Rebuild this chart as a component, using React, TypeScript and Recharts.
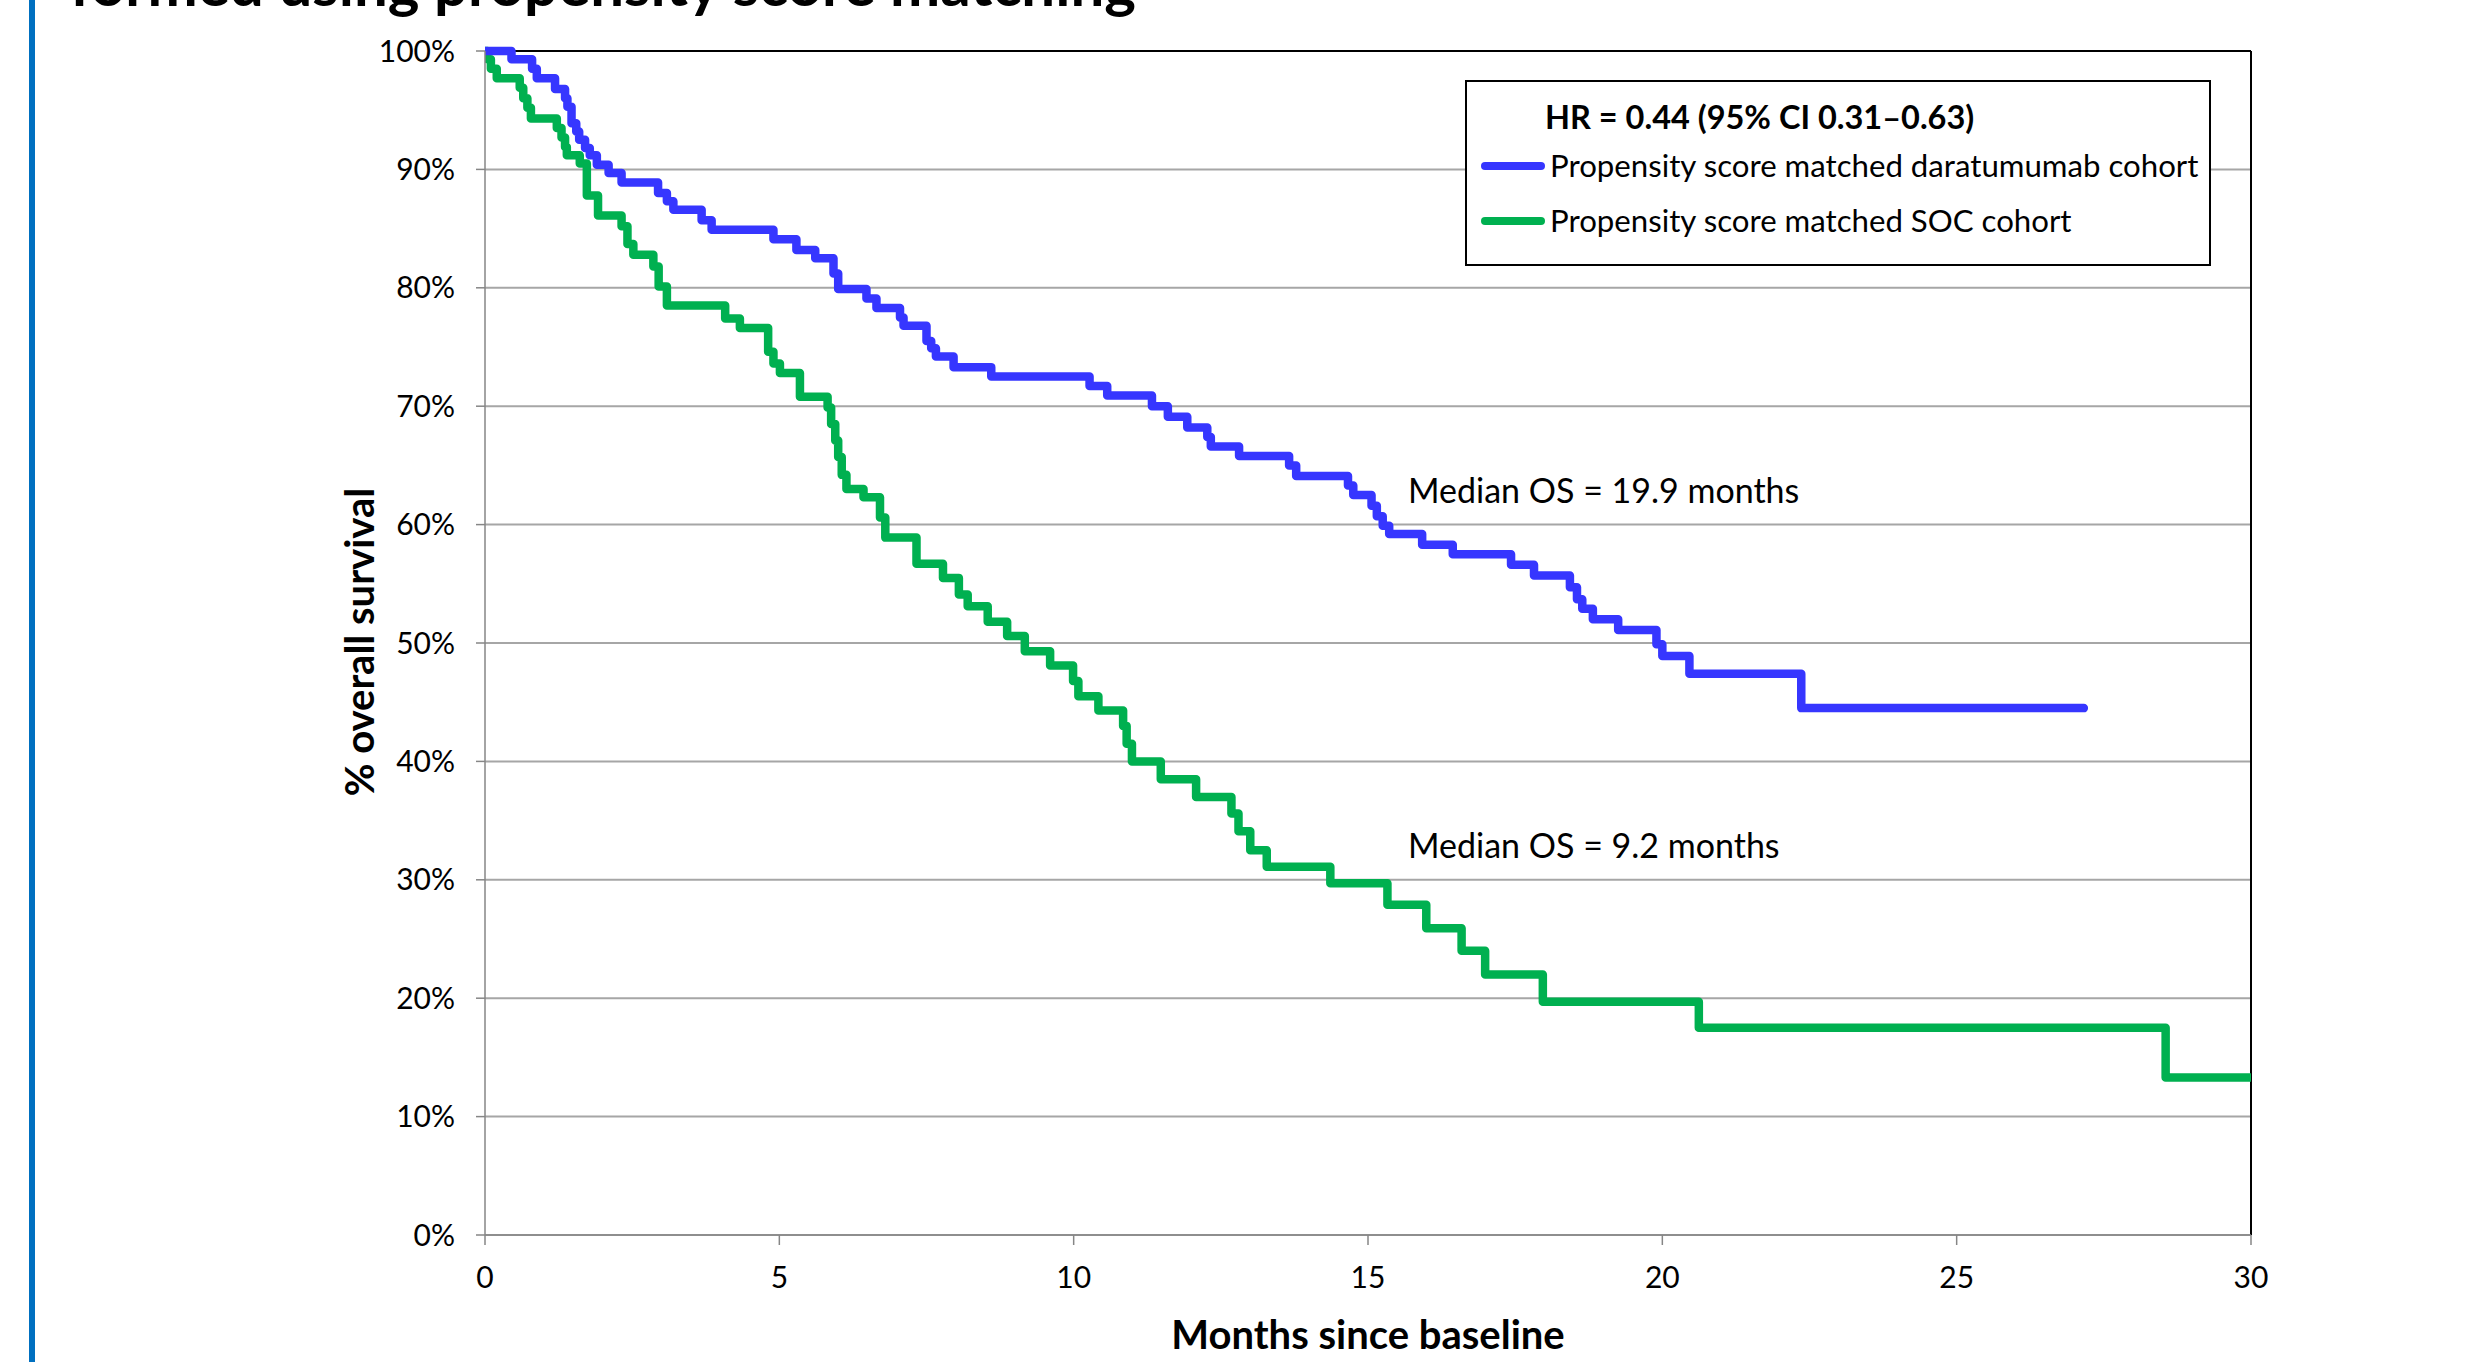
import React from 'react';
import { LineChart, Line, XAxis, YAxis, CartesianGrid, ReferenceLine } from 'recharts';

const FONT = "Lato, 'Open Sans', sans-serif";

// Kaplan-Meier step data (time in months, % surviving from that time on)
const blueTimes = [0, 0.45, 0.8, 0.88, 1.19, 1.36, 1.4, 1.47, 1.55, 1.6, 1.7, 1.78, 1.9, 2.1, 2.32, 2.94, 3.09, 3.2, 3.68, 3.85, 4.9, 5.29, 5.61, 5.92, 6.0, 6.48, 6.65, 7.05, 7.11, 7.5, 7.58, 7.66, 7.96, 8.6, 10.27, 10.57, 11.33, 11.6, 11.93, 12.27, 12.33, 12.81, 13.66, 13.78, 14.66, 14.75, 15.06, 15.15, 15.25, 15.36, 15.92, 16.44, 17.43, 17.82, 18.43, 18.55, 18.64, 18.82, 19.25, 19.9, 20.0, 20.46, 22.36, 27.16];
const blueSurv = [100, 99.3, 98.5, 97.7, 96.8, 96.0, 95.3, 93.9, 93.2, 92.5, 91.8, 91.2, 90.4, 89.7, 88.9, 88.0, 87.3, 86.6, 85.7, 84.9, 84.1, 83.2, 82.5, 81.2, 79.9, 79.1, 78.3, 77.5, 76.8, 75.5, 74.9, 74.2, 73.3, 72.5, 71.7, 70.9, 70.0, 69.1, 68.2, 67.4, 66.6, 65.8, 65.0, 64.1, 63.3, 62.5, 61.6, 60.7, 59.9, 59.2, 58.3, 57.5, 56.6, 55.7, 54.7, 53.7, 52.9, 52.0, 51.1, 49.9, 48.9, 47.4, 44.5, 44.5];

const greenTimes = [0, 0.04, 0.1, 0.2, 0.59, 0.65, 0.72, 0.78, 1.22, 1.3, 1.36, 1.39, 1.61, 1.73, 1.92, 2.32, 2.42, 2.52, 2.86, 2.95, 3.09, 4.08, 4.33, 4.81, 4.9, 5.01, 5.35, 5.82, 5.88, 5.95, 6.0, 6.06, 6.14, 6.43, 6.71, 6.8, 7.33, 7.78, 8.05, 8.2, 8.54, 8.87, 9.17, 9.6, 9.99, 10.08, 10.42, 10.84, 10.9, 10.99, 11.48, 12.08, 12.68, 12.8, 13.0, 13.28, 14.36, 15.33, 15.99, 16.59, 16.99, 17.97, 20.62, 28.55, 30];
const greenSurv = [100, 99.3, 98.5, 97.7, 96.9, 96.0, 95.2, 94.3, 93.5, 92.7, 91.9, 91.2, 90.5, 87.8, 86.1, 85.2, 83.7, 82.8, 81.8, 80.1, 78.5, 77.4, 76.6, 74.6, 73.6, 72.8, 70.8, 69.9, 68.5, 67.1, 65.7, 64.2, 63.0, 62.3, 60.6, 58.9, 56.7, 55.5, 54.1, 53.1, 51.8, 50.6, 49.3, 48.1, 46.8, 45.5, 44.3, 43.0, 41.5, 40.0, 38.5, 37.0, 35.6, 34.1, 32.5, 31.1, 29.7, 27.9, 25.9, 24.0, 22.0, 19.7, 17.5, 13.3, 13.3];

const xTicks = [0, 5, 10, 15, 20, 25, 30];
const yTicks = [0, 10, 20, 30, 40, 50, 60, 70, 80, 90, 100];

const seriesNames = ['Propensity score matched daratumumab cohort', 'Propensity score matched SOC cohort'];
const seriesColors = ['#3636ff', '#00b050'];
const hrText = 'HR = 0.44 (95% CI 0.31\u20130.63)';
const medianBlue = 'Median OS = 19.9 months';
const medianGreen = 'Median OS = 9.2 months';
const titleText = 'formed using propensity score matching';

const blueData = blueTimes.map((t, i) => ({ t, s: blueSurv[i] }));
const greenData = greenTimes.map((t, i) => ({ t, s: greenSurv[i] }));

const txt: React.CSSProperties = {
  position: 'absolute',
  fontFamily: FONT,
  fontSize: 30,
  color: '#000',
  whiteSpace: 'nowrap',
  lineHeight: '40px',
};

export default function App() {
  return (
    <div style={{ position: 'fixed', left: 0, top: 0, width: 2485, height: 1362, background: '#fff', overflow: 'hidden' }}>
      <div style={{ position: 'absolute', left: 29, top: 0, width: 6, height: 1362, background: '#0070c0' }} />
      <div style={{ ...txt, left: 70, top: -47, fontSize: 60, fontWeight: 700, lineHeight: '60px' }}>{titleText}</div>
      <div style={{ position: 'absolute', left: 0, top: 0 }}>
        <LineChart width={2485} height={1362} margin={{ top: 51, right: 234, bottom: 67, left: 385 }}>
          <CartesianGrid horizontal vertical={false} stroke="#a6a6a6" strokeWidth={2} />
          <XAxis
            type="number"
            dataKey="t"
            domain={[0, 30]}
            ticks={xTicks}
            allowDataOverflow
            height={60}
            stroke="#868686"
            strokeWidth={1.5}
            tickSize={10}
            tickMargin={22}
            tick={{ fill: '#000', fontSize: 30, fontFamily: FONT }}
          />
          <YAxis
            type="number"
            domain={[0, 100]}
            ticks={yTicks}
            width={100}
            stroke="#868686"
            strokeWidth={1.5}
            tickSize={9}
            tickMargin={21}
            tickFormatter={(v: number) => `${v}%`}
            tick={{ fill: '#000', fontSize: 30, fontFamily: FONT }}
          />
          <ReferenceLine y={100} stroke="#000" strokeWidth={2} />
          <ReferenceLine x={30} stroke="#000" strokeWidth={2} />
          <Line
            data={greenData}
            dataKey="s"
            type="stepAfter"
            stroke={seriesColors[1]}
            strokeWidth={8.5}
            dot={false}
            activeDot={false}
            isAnimationActive={false}
            strokeLinecap="round"
            strokeLinejoin="round"
            name={seriesNames[1]}
          />
          <Line
            data={blueData}
            dataKey="s"
            type="stepAfter"
            stroke={seriesColors[0]}
            strokeWidth={8.5}
            dot={false}
            activeDot={false}
            isAnimationActive={false}
            strokeLinecap="round"
            strokeLinejoin="round"
            name={seriesNames[0]}
          />
        </LineChart>
      </div>
      {/* Axis titles */}
      <div style={{ ...txt, left: 1368, top: 1334, fontSize: 40, fontWeight: 700, transform: 'translate(-50%, -50%)' }}>Months since baseline</div>
      <div style={{ ...txt, left: 359, top: 642, fontSize: 40, fontWeight: 700, transform: 'translate(-50%, -50%) rotate(-90deg)' }}>% overall survival</div>
      {/* Annotations */}
      <div style={{ ...txt, left: 1408, top: 490, fontSize: 34, transform: 'translateY(-50%)' }}>{medianBlue}</div>
      <div style={{ ...txt, left: 1408, top: 845, fontSize: 34, transform: 'translateY(-50%)' }}>{medianGreen}</div>
      {/* Legend box */}
      <div style={{ position: 'absolute', left: 1465, top: 80, width: 742, height: 182, border: '2px solid #000', background: '#fff' }}>
        <div style={{ ...txt, left: 78, top: 35 - 20, fontSize: 32.5, fontWeight: 700 }}>{hrText}</div>
        {seriesNames.map((n, i) => (
          <React.Fragment key={n}>
            <div style={{ position: 'absolute', left: 14, top: 84 + i * 55 - 4, width: 64, height: 8, borderRadius: 4, background: seriesColors[i] }} />
            <div style={{ ...txt, left: 83, top: 83 + i * 55 - 20, fontSize: 31.2 }}>{n}</div>
          </React.Fragment>
        ))}
      </div>
    </div>
  );
}
